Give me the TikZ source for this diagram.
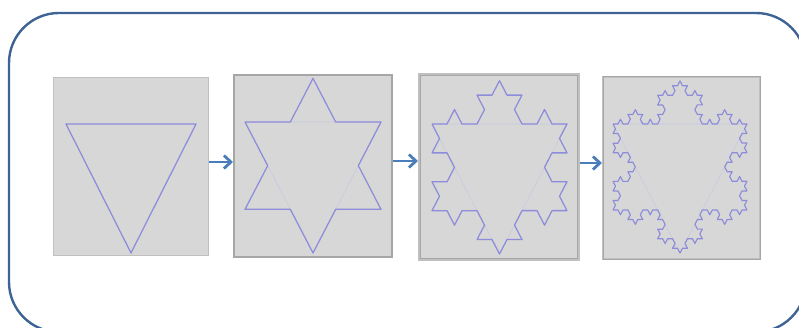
\documentclass[tikz,border=0pt]{standalone}
\usetikzlibrary{decorations.fractals,arrows.meta}
\definecolor{frameblue}{RGB}{62,100,150}
\definecolor{arrowblue}{RGB}{74,126,187}
\definecolor{boxfill}{RGB}{215,215,215}
\definecolor{boxline}{RGB}{166,166,166}
\definecolor{boxlight}{RGB}{192,192,192}
\definecolor{snowline}{RGB}{140,140,218}
\definecolor{faintline}{RGB}{200,200,226}
\begin{document}
\begin{tikzpicture}[x=1pt,y=1pt,
  frame/.style={draw=frameblue,line width=2.4pt,rounded corners=50pt},
  box/.style={fill=boxfill,draw=boxline,line width=1.6pt,inner sep=0pt,anchor=north west},
  arr/.style={draw=arrowblue,line width=2.8pt,-{Straight Barb[length=7pt,width=13pt]}},
  kline/.style={draw=snowline,line width=1.2pt,line join=round,decoration={Koch snowflake}},
  baseline/.style={draw=faintline,line width=0.5pt}]
\useasboundingbox (0,0) rectangle (799,327);
% outer frame
\draw[frame] (9,314) rectangle (806,-5);
% boxes
\node[box,draw=boxlight,line width=0.6pt,minimum width=155pt,minimum height=178pt] (b1) at (53,250) {};
\node[box,minimum width=158pt,minimum height=182pt] (b2) at (233,253) {};
\node[box,draw=boxlight,line width=2.8pt,minimum width=159pt,minimum height=185pt] (b3) at (418,254) {};
\draw[boxline,line width=1.2pt] ([shift={(2.2,-2.2)}]b3.north west) rectangle ([shift={(-2.2,2.2)}]b3.south east);
\node[box,draw=boxlight,line width=2.4pt,minimum width=157pt,minimum height=182pt] (b4) at (602,251) {};
\draw[boxline,line width=1pt] ([shift={(1,-1)}]b4.north west) rectangle ([shift={(-1,1)}]b4.south east);
% arrows
\coordinate (ay1) at (0,165);
\coordinate (ay2) at (0,166);
\coordinate (ay3) at (0,164);
\draw[arr] (b1.east |- ay1) -- (b2.west |- ay1);
\draw[arr] (b2.east |- ay2) -- (b3.west |- ay2);
\draw[arr] (b3.east |- ay3) -- (b4.west |- ay3);
% level 0
\begin{scope}[transform canvas={shift={(131,203)},yscale=1.146}]
  \draw[kline] (-65,0) -- (65,0) -- (0,-112.58) -- cycle;
\end{scope}
% level 1
\begin{scope}[transform canvas={shift={(313,205)},yscale=1.112}]
  \draw[baseline] (-68,0) -- (68,0) -- (0,-117.78) -- cycle;
  \draw[kline] decorate{(-68,0) -- (68,0) -- (0,-117.78) -- (-68,0)};
\end{scope}
% level 2
\begin{scope}[transform canvas={shift={(499.5,203)},yscale=1.112}]
  \draw[baseline] (-67.5,0) -- (67.5,0) -- (0,-116.91) -- cycle;
  \draw[kline] decorate{decorate{(-67.5,0) -- (67.5,0) -- (0,-116.91) -- (-67.5,0)}};
\end{scope}
% level 3
\begin{scope}[transform canvas={shift={(680,203)},yscale=1.112}]
  \draw[baseline] (-67,0) -- (67,0) -- (0,-116.04) -- cycle;
  \draw[kline,line width=1.1pt] decorate{decorate{decorate{(-67,0) -- (67,0) -- (0,-116.04) -- (-67,0)}}};
\end{scope}
\end{tikzpicture}
\end{document}
